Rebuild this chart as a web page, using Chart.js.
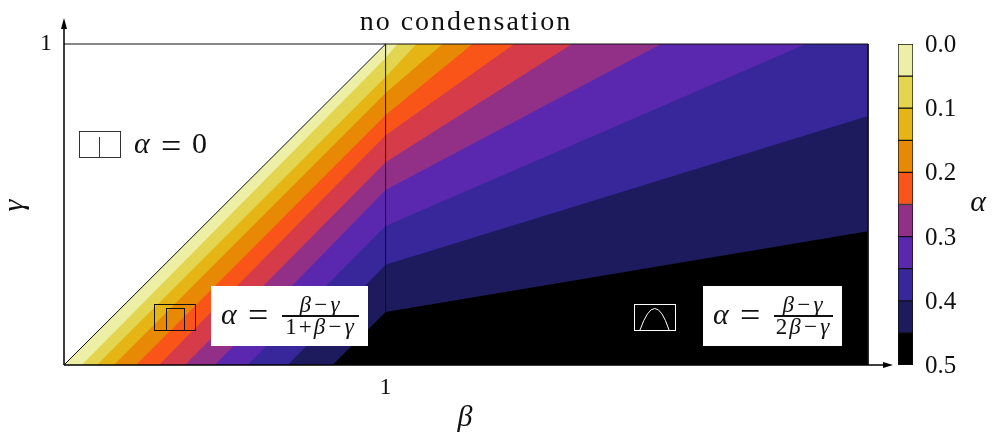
<!DOCTYPE html>
<html>
<head>
<meta charset="utf-8">
<title>no condensation</title>
<script src="https://cdn.jsdelivr.net/npm/chart.js@4"></script>
<style>
  html, body { margin: 0; padding: 0; background: #fff; overflow: hidden; }
  canvas { position: absolute; top: 0; }
  #phaseChart { left: 0; }
  #colorBar { left: 880px; }
</style>
</head>
<body>
<canvas id="phaseChart" width="900" height="436"></canvas>
<canvas id="colorBar" width="113" height="436"></canvas>
<script>
// Each contour edge: where it leaves gamma = 0, its height at beta = 1,
// then where it meets the top (or, for the last two, the right side)
const edgeStartBeta = [0, 0.055, 0.102, 0.155, 0.224, 0.295, 0.376, 0.469, 0.571, 0.696, 0.835];
const edgeGammaAtOne = [1, 0.956, 0.897, 0.847, 0.779, 0.716, 0.632, 0.545, 0.433, 0.312, 0.165];
const edgeTopBeta = [1, 1.037, 1.096, 1.177, 1.27, 1.4, 1.58, 1.857, 2.307, null, null];
const edgeEndGamma = [1, 1, 1, 1, 1, 1, 1, 1, 1, 0.776, 0.417];
const bandColors = ['#edefa6', '#e3d54f', '#e5b515', '#e88905', '#fa5518', '#d63b4a', '#923088', '#5a28ae', '#37279a', '#1d1b5e', '#000000'];

const betaMax = 2.5;
const betaTicks = [1];
const gammaTicks = [1];

// The legend has no crimson step
const barColors = ['#edefa6', '#e3d54f', '#e5b515', '#e88905', '#fa5518', '#923088', '#5a28ae', '#37279a', '#1d1b5e', '#000000'];
const barSteps = [0.05, 0.05, 0.05, 0.05, 0.05, 0.05, 0.05, 0.05, 0.05, 0.05];
const barTicks = [0, 0.1, 0.2, 0.3, 0.4, 0.5];

const serif = '"Liberation Serif", serif';

const bandDatasets = edgeStartBeta.map((beta, i) => {
    const points = [{ x: beta, y: 0 }, { x: 1, y: edgeGammaAtOne[i] }];
    if (edgeTopBeta[i] !== null) points.push({ x: edgeTopBeta[i], y: 1 });
    points.push({ x: betaMax, y: edgeEndGamma[i] });
    return {
        data: points,
        borderWidth: 0,
        backgroundColor: bandColors[i],
        fill: 'start',
        order: 20 - i
    };
});

const guide = (points) => ({
    data: points,
    borderColor: '#111',
    borderWidth: 1,
    fill: false,
    clip: false,
    order: 0
});

const guideDatasets = [
    guide([{ x: 0, y: 1 }, { x: betaMax, y: 1 }, { x: betaMax, y: 0 }]),
    guide([{ x: 0, y: 0 }, { x: 1, y: 1 }]),
    guide([{ x: 1, y: edgeGammaAtOne[10] }, { x: 1, y: 1 }])
];

const text = (ctx, str, x, y, size, italic, align) => {
    ctx.font = (italic ? 'italic ' : '') + size + 'px ' + serif;
    ctx.textAlign = align || 'left';
    ctx.textBaseline = 'alphabetic';
    ctx.fillText(str, x, y);
};

// Mixed upright and italic text, centred on x. Each run is [string, italic]
const runs = (ctx, parts, x, y, size) => {
    ctx.letterSpacing = '2px';
    const widths = parts.map(([str, italic]) => {
        ctx.font = (italic ? 'italic ' : '') + size + 'px ' + serif;
        return ctx.measureText(str).width;
    });
    let pos = x - widths.reduce((a, b) => a + b, 0) / 2;
    parts.forEach(([str, italic], i) => {
        text(ctx, str, pos, y, size, italic);
        pos += widths[i];
    });
    ctx.letterSpacing = '0px';
};

// alpha = fraction label on a white box
const formula = (ctx, box, barLeft, barRight, top, bottom) => {
    ctx.fillStyle = '#fff';
    ctx.fillRect(box.left, box.top, box.width, box.height);
    ctx.fillStyle = '#111';
    text(ctx, 'α', box.left + 10, 324, 30, true);
    text(ctx, '=', box.left + 37, 327, 36, false);
    ctx.fillRect(barLeft, 315, barRight - barLeft, 2);
    const mid = (barLeft + barRight) / 2;
    runs(ctx, top, mid, 312, 23);
    runs(ctx, bottom, mid, 334, 23);
};

const annotations = {
    id: 'annotations',
    // wide spacing is for the title only, ticks are drawn after the datasets
    beforeDraw(chart) {
        chart.ctx.letterSpacing = '2px';
    },
    beforeDatasetsDraw(chart) {
        chart.ctx.letterSpacing = '0px';
    },
    afterDatasetsDraw(chart) {
        const { ctx, chartArea } = chart;
        const { left, bottom } = chartArea;
        ctx.save();

        // arrows on both axes
        ctx.strokeStyle = '#000';
        ctx.fillStyle = '#000';
        ctx.lineWidth = 1.5;
        ctx.beginPath();
        ctx.moveTo(left, bottom);
        ctx.lineTo(left, 26);
        ctx.moveTo(left, bottom);
        ctx.lineTo(885, bottom);
        ctx.stroke();
        ctx.beginPath();
        ctx.moveTo(left, 18);
        ctx.lineTo(left - 3, 29);
        ctx.lineTo(left + 3, 29);
        ctx.closePath();
        ctx.moveTo(893, bottom);
        ctx.lineTo(883, bottom - 3);
        ctx.lineTo(883, bottom + 3);
        ctx.closePath();
        ctx.fill();

        // alpha = 0 region
        ctx.lineWidth = 1;
        ctx.strokeStyle = '#333';
        ctx.strokeRect(79.5, 131.5, 41, 26);
        ctx.beginPath();
        ctx.moveTo(99.5, 137);
        ctx.lineTo(99.5, 157);
        ctx.stroke();
        ctx.fillStyle = '#111';
        text(ctx, 'α', 134, 153, 30, true);
        text(ctx, '=', 161, 158, 36, false);
        text(ctx, '0', 192, 153, 30, false);

        // condensed regions
        ctx.strokeStyle = '#111';
        ctx.strokeRect(154.5, 304.5, 41, 26);
        ctx.strokeRect(166.5, 308.5, 18, 22);

        formula(ctx, { left: 211, top: 286, width: 157, height: 60 }, 282, 359,
            [['β−γ', true]], [['1+', false], ['β−γ', true]]);

        ctx.strokeStyle = '#fff';
        ctx.strokeRect(634.5, 304.5, 41, 26);
        ctx.beginPath();
        ctx.moveTo(640, 330);
        ctx.quadraticCurveTo(655, 287, 669, 330);
        ctx.stroke();

        formula(ctx, { left: 703, top: 286, width: 139, height: 60 }, 774, 833,
            [['β−γ', true]], [['2', false], ['β−γ', true]]);

        ctx.restore();
    }
};

new Chart(document.getElementById('phaseChart'), {
    type: 'line',
    data: {
        datasets: [...guideDatasets, ...bandDatasets]
    },
    options: {
        responsive: false,
        animation: false,
        layout: { padding: { right: 32 } },
        elements: {
            point: { radius: 0 },
            line: { tension: 0 }
        },
        plugins: {
            legend: { display: false },
            tooltip: { enabled: false },
            title: {
                display: true,
                fullSize: false,
                text: 'no condensation',
                color: '#111',
                font: { family: serif, size: 28, weight: 'normal', lineHeight: 1.2 },
                padding: { top: 6, bottom: 4.4 }
            }
        },
        scales: {
            x: {
                type: 'linear',
                min: 0,
                max: betaMax,
                afterBuildTicks: (axis) => { axis.ticks = betaTicks.map(value => ({ value })); },
                afterFit: (axis) => { axis.height = 71; },
                grid: { display: false, drawTicks: false },
                border: { display: false },
                ticks: {
                    z: 1,
                    color: '#111',
                    padding: 8,
                    maxRotation: 0,
                    font: { family: serif, size: 24 },
                    callback: (value) => String(value)
                },
                title: {
                    display: true,
                    text: 'β',
                    color: '#111',
                    padding: { top: 4, bottom: 0 },
                    font: { family: serif, size: 30, style: 'italic', weight: 'normal' }
                }
            },
            y: {
                min: 0,
                max: 1,
                afterBuildTicks: (axis) => { axis.ticks = gammaTicks.map(value => ({ value })); },
                afterFit: (axis) => { axis.width = 64; },
                grid: { display: false, drawTicks: false },
                border: { display: false },
                ticks: {
                    z: 1,
                    color: '#111',
                    padding: 12,
                    font: { family: serif, size: 24 },
                    callback: (value) => String(value)
                },
                title: {
                    display: true,
                    text: 'γ',
                    color: '#111',
                    padding: 0,
                    font: { family: serif, size: 30, style: 'italic', weight: 'normal', lineHeight: 1 }
                }
            }
        }
    },
    plugins: [annotations]
});

// Colour scale. Labels are drawn here so they sit centred on their values
const barLabels = {
    id: 'barLabels',
    afterDraw(chart) {
        const { ctx, scales, chartArea } = chart;
        ctx.save();
        ctx.fillStyle = '#111';
        barTicks.forEach((value) => {
            text(ctx, value.toFixed(1), chartArea.right + 12, scales.y.getPixelForValue(value) + 8, 25, false);
        });
        text(ctx, 'α', 98, 211, 30, true, 'center');
        ctx.restore();
    }
};

new Chart(document.getElementById('colorBar'), {
    type: 'bar',
    data: {
        labels: ['alpha'],
        datasets: barSteps.map((step, i) => ({
            data: [step],
            backgroundColor: barColors[i],
            borderColor: '#111',
            borderWidth: 1,
            borderSkipped: false,
            barPercentage: 1,
            categoryPercentage: 1
        }))
    },
    options: {
        responsive: false,
        animation: false,
        layout: { padding: { left: 18, top: 44, bottom: 71 } },
        plugins: {
            legend: { display: false },
            tooltip: { enabled: false }
        },
        scales: {
            x: {
                stacked: true,
                display: false
            },
            y: {
                stacked: true,
                reverse: true,
                position: 'right',
                min: 0,
                max: 0.5,
                afterFit: (axis) => { axis.width = 80; },
                grid: { display: false, drawTicks: false },
                border: { display: false },
                ticks: { display: false }
            }
        }
    },
    plugins: [barLabels]
});
</script>
</body>
</html>
